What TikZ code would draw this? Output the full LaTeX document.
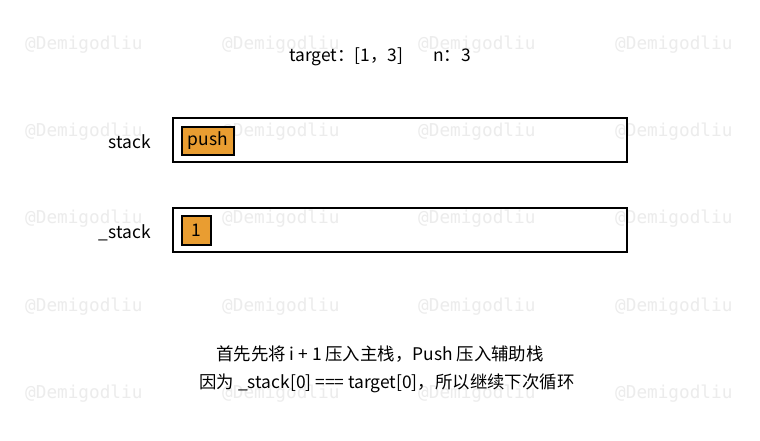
\documentclass[tikz,border=0pt]{standalone}
\usepackage{fontspec}
\setmainfont{Noto Sans CJK SC}
\newfontfamily\wmfont{DejaVu Sans Mono}
\definecolor{wm}{HTML}{ECECEC}
\definecolor{boxorange}{HTML}{E99D31}
\begin{document}
\begin{tikzpicture}[x=1pt,y=-1pt,
  wmark/.style={anchor=west,text=wm,font=\wmfont\fontsize{17.7}{19}\selectfont,inner sep=0pt},
  stackbox/.style={draw=black,line width=2pt,inner sep=0pt},
  item/.style={draw=black,fill=boxorange,line width=2pt,inner sep=0pt,font=\fontsize{17.4}{19}\selectfont},
  lbl/.style={anchor=east,inner sep=0pt,font=\fontsize{17.4}{19}\selectfont},
  txt/.style={inner sep=0pt,font=\fontsize{17.4}{19}\selectfont}]
\useasboundingbox (0,0) rectangle (760,440);
\fill[white] (0,0) rectangle (760,440);
% watermarks
\foreach \yy [count=\r] in {45,132,219,307,394}{
  \foreach \xx [count=\c] in {25,222,418,615}{
    \node[wmark] (wm\r\c) at (\xx,\yy) {@Demigodliu};
  }
}
% title
\node[txt] (title) at (380,57) {target：[1，3]\hspace{30pt}n：3};
% stack boxes
\node[stackbox,minimum width=454pt,minimum height=44pt] (stack) at (400,140) {};
\node[stackbox,minimum width=454pt,minimum height=44pt] (ustack) at (400,230) {};
\node[lbl] (stacklbl) at (151,141.5) {stack};
\node[lbl] (ustacklbl) at (151,232.5) {\_stack};
\node[item,minimum width=52pt,minimum height=28pt] (push) at (208,141) {push};
\node[item,minimum width=29pt,minimum height=29pt] (one) at (196.5,230.5) {1};
% captions
\node[txt] (cap1) at (380,354) {首先先将 i + 1 压入主栈，Push 压入辅助栈};
\node[txt] (cap2) at (387,383) {因为 \_stack[0] === target[0]，所以继续下次循环};
\end{tikzpicture}
\end{document}
